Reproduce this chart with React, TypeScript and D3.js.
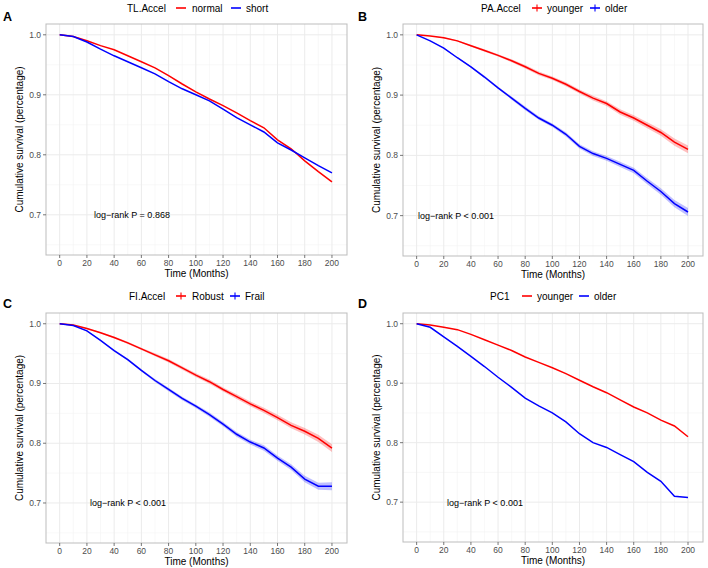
import React from "react";
import * as d3 from "d3";

const times = [0, 10, 20, 30, 40, 50, 60, 70, 80, 90, 100, 110, 120, 130, 140, 150, 160, 170, 180, 190, 200];

const aNormal = [1.0, 0.997, 0.99, 0.982, 0.975, 0.965, 0.955, 0.945, 0.932, 0.918, 0.905, 0.893, 0.882, 0.87, 0.857, 0.845, 0.825, 0.81, 0.79, 0.772, 0.755];
const aShort = [1.0, 0.997, 0.988, 0.976, 0.965, 0.955, 0.945, 0.935, 0.922, 0.91, 0.9, 0.89, 0.876, 0.862, 0.85, 0.838, 0.82, 0.808, 0.795, 0.782, 0.77];

const bYounger = [1.0, 0.998, 0.995, 0.99, 0.982, 0.974, 0.966, 0.957, 0.947, 0.936, 0.928, 0.918, 0.906, 0.895, 0.886, 0.872, 0.862, 0.85, 0.838, 0.822, 0.81];
const bOlder = [1.0, 0.99, 0.978, 0.962, 0.947, 0.93, 0.912, 0.895, 0.878, 0.862, 0.85, 0.835, 0.815, 0.803, 0.795, 0.785, 0.775, 0.757, 0.74, 0.72, 0.706];

const cRobust = [1.0, 0.998, 0.992, 0.985, 0.977, 0.968, 0.958, 0.948, 0.938, 0.926, 0.914, 0.903, 0.89, 0.878, 0.866, 0.855, 0.843, 0.83, 0.82, 0.808, 0.792];
const cFrail = [1.0, 0.997, 0.988, 0.972, 0.955, 0.94, 0.922, 0.905, 0.89, 0.875, 0.862, 0.848, 0.832, 0.815, 0.802, 0.792, 0.775, 0.76, 0.74, 0.728, 0.728];

const dYounger = [1.0, 0.998, 0.994, 0.99, 0.982, 0.973, 0.964, 0.955, 0.944, 0.935, 0.926, 0.916, 0.905, 0.894, 0.884, 0.872, 0.86, 0.85, 0.838, 0.828, 0.81];
const dOlder = [1.0, 0.994, 0.978, 0.962, 0.945, 0.928, 0.91, 0.893, 0.875, 0.862, 0.85, 0.835, 0.815, 0.8, 0.792, 0.78, 0.768, 0.75, 0.735, 0.71, 0.708];

const ciHalf = [0, 0, 0.001, 0.001, 0.0015, 0.002, 0.002, 0.0025, 0.003, 0.003, 0.003, 0.0035, 0.0035, 0.004, 0.004, 0.0045, 0.0045, 0.005, 0.0055, 0.006, 0.0065];

const xTicks = [0, 20, 40, 60, 80, 100, 120, 140, 160, 180, 200];
const xMinor = [10, 30, 50, 70, 90, 110, 130, 150, 170, 190];
const yTicks = [0.7, 0.8, 0.9, 1.0];
const yMinor = [0.65, 0.75, 0.85, 0.95];

const RED = "#FF0000";
const BLUE = "#0000FF";
const FONT = "'Liberation Sans', Arial, Helvetica, sans-serif";

type Panel = {
  letter: string;
  left: number; right: number; top: number; bottom: number;
  legendTitle: string; labels: [string, string];
  legendX: number[]; // title, key1, label1, key2, label2
  legendY: number; letterY: number; letterX: number;
  red: number[]; blue: number[];
  pval: string; pvalX: number; pvalY: number;
  band: boolean; plus: boolean;
};

const panels: Panel[] = [
  { letter: "A", left: 46, right: 347, top: 24, bottom: 255, legendTitle: "TL.Accel", labels: ["normal", "short"],
    legendX: [127, 176, 192, 231, 246], legendY: 8, letterX: 3, letterY: 17, red: aNormal, blue: aShort,
    pval: "log\u2212rank P =  0.868", pvalX: 94, pvalY: 215, band: false, plus: false },
  { letter: "B", left: 403, right: 703, top: 24, bottom: 256, legendTitle: "PA.Accel", labels: ["younger", "older"],
    legendX: [481, 532, 547, 590, 605], legendY: 8, letterX: 358, letterY: 17, red: bYounger, blue: bOlder,
    pval: "log\u2212rank P < 0.001", pvalX: 418, pvalY: 216, band: true, plus: true },
  { letter: "C", left: 46, right: 347, top: 313, bottom: 543, legendTitle: "FI.Accel", labels: ["Robust", "Frail"],
    legendX: [129, 176, 192, 230, 245], legendY: 296, letterX: 3, letterY: 304, red: cRobust, blue: cFrail,
    pval: "log\u2212rank P < 0.001", pvalX: 90, pvalY: 503, band: true, plus: true },
  { letter: "D", left: 403, right: 703, top: 313, bottom: 542, legendTitle: "PC1", labels: ["younger", "older"],
    legendX: [490, 522, 537, 579, 594], legendY: 296, letterX: 358, letterY: 304, red: dYounger, blue: dOlder,
    pval: "log\u2212rank P < 0.001", pvalX: 447, pvalY: 503, band: false, plus: false },
];

function PanelView({ p }: { p: Panel }) {
  const x = d3.scaleLinear().domain([-10.05, 211.05]).range([p.left, p.right]);
  const y = d3.scaleLinear().domain([0.633, 1.018]).range([p.bottom, p.top]);
  const line = d3.line<number>().x((_, i) => x(times[i])).y((v) => y(v)).curve(d3.curveLinear);
  const area = d3.area<number>().x((_, i) => x(times[i]))
    .y0((v, i) => y(v - ciHalf[i])).y1((v, i) => y(v + ciHalf[i]));
  const cx = (p.left + p.right) / 2;
  const cy = (p.top + p.bottom) / 2;
  const key = (kx: number, color: string) => (
    <g>
      <line x1={kx} x2={kx + 10} y1={p.legendY} y2={p.legendY} stroke={color} strokeWidth={1.6} />
      {p.plus && <line x1={kx + 5} x2={kx + 5} y1={p.legendY - 3.5} y2={p.legendY + 3.5} stroke={color} strokeWidth={1.1} />}
    </g>
  );
  return (
    <g fontFamily={FONT}>
      <text x={p.letterX} y={p.letterY + 4} fontSize={12.5} fontWeight="bold" fill="#000">{p.letter}</text>
      <text x={p.legendX[0]} y={p.legendY} dy="0.35em" fontSize={10} fill="#000">{p.legendTitle}</text>
      {key(p.legendX[1], RED)}
      <text x={p.legendX[2]} y={p.legendY} dy="0.35em" fontSize={10} fill="#000">{p.labels[0]}</text>
      {key(p.legendX[3], BLUE)}
      <text x={p.legendX[4]} y={p.legendY} dy="0.35em" fontSize={10} fill="#000">{p.labels[1]}</text>

      <rect x={p.left} y={p.top} width={p.right - p.left} height={p.bottom - p.top} fill="#fff" />
      {xMinor.map((t) => (
        <line key={"xm" + t} x1={x(t)} x2={x(t)} y1={p.top} y2={p.bottom} stroke="#f4f4f4" strokeWidth={0.6} />
      ))}
      {yMinor.map((t) => (
        <line key={"ym" + t} x1={p.left} x2={p.right} y1={y(t)} y2={y(t)} stroke="#f4f4f4" strokeWidth={0.6} />
      ))}
      {xTicks.map((t) => (
        <line key={"xg" + t} x1={x(t)} x2={x(t)} y1={p.top} y2={p.bottom} stroke="#ebebeb" strokeWidth={1} />
      ))}
      {yTicks.map((t) => (
        <line key={"yg" + t} x1={p.left} x2={p.right} y1={y(t)} y2={y(t)} stroke="#ebebeb" strokeWidth={1} />
      ))}

      {p.band && (
        <g>
          <path d={area(p.red) || ""} fill={RED} opacity={0.25} />
          <path d={area(p.blue) || ""} fill={BLUE} opacity={0.25} />
        </g>
      )}
      <path d={line(p.red) || ""} fill="none" stroke={RED} strokeWidth={1.5} />
      <path d={line(p.blue) || ""} fill="none" stroke={BLUE} strokeWidth={1.5} />

      <rect x={p.left} y={p.top} width={p.right - p.left} height={p.bottom - p.top} fill="none" stroke="#bdbdbd" strokeWidth={1} />

      {xTicks.map((t) => (
        <g key={"xt" + t}>
          <line x1={x(t)} x2={x(t)} y1={p.bottom} y2={p.bottom + 3} stroke="#555" strokeWidth={0.8} />
          <text x={x(t)} y={p.bottom + 11} textAnchor="middle" fontSize={8.5} fill="#4d4d4d">{t}</text>
        </g>
      ))}
      {yTicks.map((t) => (
        <g key={"yt" + t}>
          <line x1={p.left - 3} x2={p.left} y1={y(t)} y2={y(t)} stroke="#555" strokeWidth={0.8} />
          <text x={p.left - 5} y={y(t)} dy="0.35em" textAnchor="end" fontSize={8.5} fill="#4d4d4d">{d3.format(".1f")(t)}</text>
        </g>
      ))}
      <text x={cx} y={p.bottom + 22} textAnchor="middle" fontSize={10} fill="#000">Time (Months)</text>
      <text transform={`translate(${p.left - 23},${cy}) rotate(-90)`} textAnchor="middle" fontSize={10} fill="#000">
        Cumulative survival (percentage)
      </text>
      <text x={p.pvalX} y={p.pvalY} dy="0.35em" fontSize={9} fill="#000">{p.pval}</text>
    </g>
  );
}

export default function App() {
  return (
    <svg width={708} height={568} style={{ position: "absolute", left: 0, top: 0, background: "#fff" }}>
      <rect x={0} y={0} width={708} height={568} fill="#fff" />
      {panels.map((p) => <PanelView key={p.letter} p={p} />)}
    </svg>
  );
}
